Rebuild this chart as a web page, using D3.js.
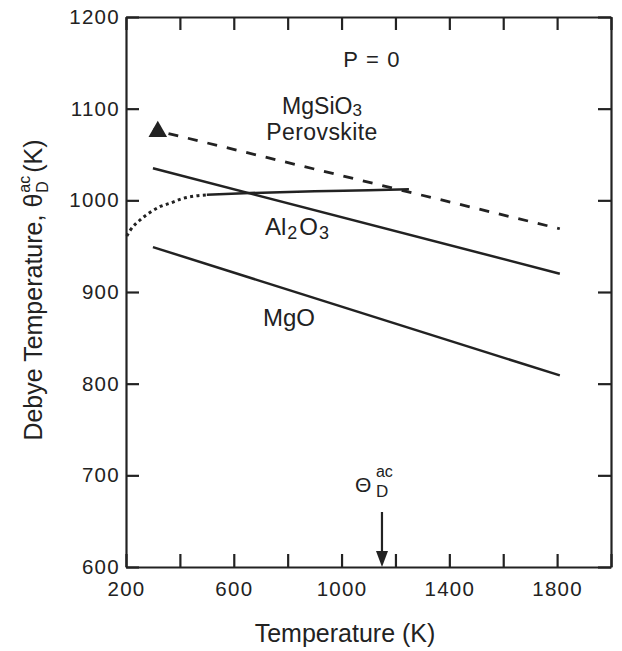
<!DOCTYPE html>
<html>
<head>
<meta charset="utf-8">
<script src="https://cdn.jsdelivr.net/npm/d3@7"></script>
<style>
  body { margin: 0; background: #fff; }
  svg text { font-family: "Liberation Sans", Arial, sans-serif; fill: #222; }
</style>
</head>
<body>
<svg id="chart" width="622" height="651"></svg>
<script>
// values (temperature K, Debye temperature K)
const perovskite = [[300, 1077], [1810, 969]];
const alumina = [[300, 1035], [1810, 920]];
const periclase = [[300, 949], [1810, 809]];
const lowTDotted = [[203, 961], [215, 967], [250, 978], [290, 987], [325, 993], [365, 997], [410, 1002], [450, 1004.5], [500, 1006]];
const lowTSolid = [[500, 1006], [660, 1008], [900, 1010], [1100, 1011], [1250, 1012]];
const perovskiteMeasured = [[318, 1075]];
const arrowT = 1150;
const arrowFrom = 660;

const xTicks = d3.range(200, 2001, 200);
const xLabels = [200, 600, 1000, 1400, 1800];
const yTicks = d3.range(600, 1201, 100);

const svg = d3.select("#chart");
const ink = "#222";

const x = d3.scaleLinear().domain([200, 2000]).range([126, 611]);
const y = d3.scaleLinear().domain([600, 1200]).range([567, 17]);

function styleAxis(g) {
  g.attr("font-family", null).attr("font-size", null);
  g.select(".domain").attr("stroke", ink).attr("stroke-width", 2.2);
  g.selectAll(".tick line").attr("stroke", ink).attr("stroke-width", 2.2);
  g.selectAll(".tick text").attr("font-size", 20.5).attr("letter-spacing", 1.3).attr("fill", ink);
}

// bottom
svg.append("g")
  .attr("transform", "translate(0," + y(600) + ")")
  .call(d3.axisBottom(x).tickValues(xTicks).tickSizeInner(-13).tickSizeOuter(0).tickPadding(14)
    .tickFormat(function(d) { return xLabels.includes(d) ? d : ""; }))
  .call(styleAxis);

// top
svg.append("g")
  .attr("transform", "translate(0," + y(1200) + ")")
  .call(d3.axisTop(x).tickValues(xTicks).tickSizeInner(-13).tickSizeOuter(0).tickFormat(""))
  .call(styleAxis);

// left
svg.append("g")
  .attr("transform", "translate(" + x(200) + ",0)")
  .call(d3.axisLeft(y).tickValues(yTicks).tickSizeInner(-13).tickSizeOuter(0).tickPadding(6)
    .tickFormat(d3.format("d")))
  .call(styleAxis);

// right
svg.append("g")
  .attr("transform", "translate(" + x(2000) + ",0)")
  .call(d3.axisRight(y).tickValues(yTicks).tickSizeInner(-13).tickSizeOuter(0).tickFormat(""))
  .call(styleAxis);

const line = d3.line().x(function(d) { return x(d[0]); }).y(function(d) { return y(d[1]); });
const curve = d3.line().x(function(d) { return x(d[0]); }).y(function(d) { return y(d[1]); })
  .curve(d3.curveMonotoneX);

let plot = svg.append("g").attr("fill", "none").attr("stroke", ink);

plot.append("path").attr("d", line(perovskite))
  .attr("stroke-width", 2.8).attr("stroke-dasharray", "10,10").attr("stroke-dashoffset", -16);
plot.append("path").attr("d", line(alumina)).attr("stroke-width", 2.5);
plot.append("path").attr("d", line(periclase)).attr("stroke-width", 2.5);
plot.append("path").attr("d", curve(lowTDotted))
  .attr("stroke-width", 3).attr("stroke-dasharray", "3,3.4");
plot.append("path").attr("d", curve(lowTSolid)).attr("stroke-width", 2.5);

// measured point
svg.selectAll(".tri")
  .data(perovskiteMeasured)
  .enter().append("path")
  .attr("class", "tri")
  .attr("d", d3.symbol(d3.symbolTriangle, 150))
  .attr("transform", function(d) { return "translate(" + x(d[0]) + "," + y(d[1]) + ")"; })
  .attr("fill", ink);

// arrow marking Theta_D^ac
const ax = x(arrowT), tail = y(arrowFrom), tip = y(600);
svg.append("line")
  .attr("x1", ax).attr("x2", ax).attr("y1", tail).attr("y2", tip - 12)
  .attr("stroke", ink).attr("stroke-width", 2.2);
svg.append("path")
  .attr("d", "M" + (ax - 6) + "," + (tip - 16) + "L" + (ax + 6) + "," + (tip - 16) + "L" + ax + "," + tip + "Z")
  .attr("fill", ink);
svg.append("text").attr("x", ax - 27).attr("y", tail - 20).attr("font-size", 21).text("Θ");
svg.append("text").attr("x", ax - 6).attr("y", tail - 35).attr("font-size", 16).text("ac");
svg.append("text").attr("x", ax - 6).attr("y", tail - 15).attr("font-size", 17).text("D");

// annotations
svg.append("text").attr("x", 372).attr("y", 67).attr("text-anchor", "middle")
  .attr("font-size", 22).attr("letter-spacing", 1.2).text("P = 0");

let mg = svg.append("text").attr("x", 322).attr("y", 114).attr("text-anchor", "middle").attr("font-size", 23);
mg.append("tspan").text("MgSiO");
mg.append("tspan").attr("font-size", 17).attr("dy", 2).text("3");
svg.append("text").attr("x", 322).attr("y", 140).attr("text-anchor", "middle").attr("font-size", 23)
  .attr("letter-spacing", 0.4).text("Perovskite");

let al = svg.append("text").attr("x", 265).attr("y", 235).attr("font-size", 24);
al.append("tspan").text("Al");
al.append("tspan").attr("font-size", 18).attr("dy", 4).attr("dx", 1).text("2");
al.append("tspan").attr("dy", -4).attr("dx", 2).text("O");
al.append("tspan").attr("font-size", 18).attr("dy", 4).attr("dx", 1).text("3");

svg.append("text").attr("x", 263).attr("y", 326).attr("font-size", 24).text("MgO");

// axis titles
svg.append("text").attr("x", 345).attr("y", 642).attr("text-anchor", "middle")
  .attr("font-size", 25).text("Temperature (K)");

let yt = svg.append("g").attr("transform", "translate(42,290) rotate(-90)");
let t1 = yt.append("text").attr("font-size", 25).text("Debye Temperature, θ");
const w1 = t1.node().getComputedTextLength();
yt.append("text").attr("x", w1 + 1).attr("y", -12).attr("font-size", 16).text("ac");
yt.append("text").attr("x", w1 + 1).attr("y", 6).attr("font-size", 16).text("D");
let t4 = yt.append("text").attr("x", w1 + 21).attr("font-size", 25).text("(K)");
const total = w1 + 21 + t4.node().getComputedTextLength();
yt.selectAll("text").attr("transform", "translate(" + (-total / 2) + ",0)");
</script>
</body>
</html>
